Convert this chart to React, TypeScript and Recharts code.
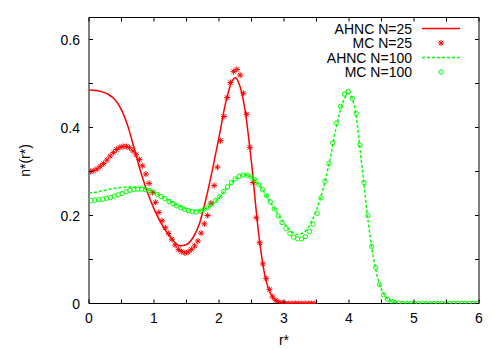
import React from "react";
import { ComposedChart, Line, Scatter, XAxis, YAxis, ReferenceArea, Legend } from "recharts";

// AHNC N=25 (solid red)
const ahnc25R = [0, 0.1, 0.2, 0.3, 0.4, 0.5, 0.6, 0.7, 0.8, 0.9, 1.0, 1.1, 1.2, 1.3, 1.4, 1.5, 1.6, 1.7, 1.8, 1.9, 2.0, 2.1, 2.2, 2.25, 2.3, 2.4, 2.5, 2.6, 2.7, 2.8, 2.9, 3.0, 3.5];
const ahnc25N = [0.485, 0.484, 0.481, 0.475, 0.463, 0.440, 0.402, 0.350, 0.297, 0.252, 0.215, 0.185, 0.161, 0.142, 0.131, 0.134, 0.150, 0.182, 0.238, 0.305, 0.378, 0.455, 0.505, 0.513, 0.503, 0.440, 0.320, 0.172, 0.068, 0.020, 0.005, 0.001, 0];

// MC N=25 (red stars)
const mc25R = [0.025, 0.075, 0.125, 0.175, 0.225, 0.275, 0.325, 0.375, 0.425, 0.475, 0.525, 0.575, 0.625, 0.675, 0.725, 0.775, 0.825, 0.875, 0.925, 0.975, 1.025, 1.075, 1.125, 1.175, 1.225, 1.275, 1.325, 1.375, 1.425, 1.475, 1.525, 1.575, 1.625, 1.675, 1.725, 1.775, 1.825, 1.875, 1.925, 1.975, 2.025, 2.075, 2.125, 2.175, 2.225, 2.275, 2.325, 2.375, 2.425, 2.475, 2.525, 2.575, 2.625, 2.675, 2.725, 2.775, 2.825, 2.875, 2.925, 2.975, 3.025, 3.075, 3.125, 3.175, 3.225, 3.275, 3.325, 3.375, 3.425, 3.475];
const mc25N = [0.300, 0.302, 0.306, 0.312, 0.318, 0.326, 0.335, 0.343, 0.350, 0.355, 0.357, 0.357, 0.354, 0.347, 0.338, 0.327, 0.313, 0.294, 0.273, 0.252, 0.230, 0.207, 0.188, 0.172, 0.159, 0.146, 0.133, 0.123, 0.118, 0.115, 0.117, 0.123, 0.131, 0.142, 0.160, 0.181, 0.200, 0.228, 0.268, 0.310, 0.370, 0.425, 0.468, 0.502, 0.527, 0.532, 0.519, 0.478, 0.430, 0.355, 0.275, 0.195, 0.138, 0.090, 0.057, 0.032, 0.015, 0.007, 0.003, 0.001, 0, 0, 0, 0, 0, 0, 0, 0, 0, 0];

// AHNC N=100 (dashed green)
const ahnc100R = [0, 0.1, 0.2, 0.3, 0.4, 0.5, 0.6, 0.7, 0.8, 0.9, 1.0, 1.1, 1.2, 1.3, 1.4, 1.5, 1.6, 1.7, 1.8, 1.9, 2.0, 2.1, 2.2, 2.3, 2.4, 2.5, 2.6, 2.7, 2.8, 2.9, 3.0, 3.1, 3.2, 3.3, 3.4, 3.5, 3.6, 3.7, 3.8, 3.9, 4.0, 4.1, 4.2, 4.3, 4.4, 4.5, 4.6, 4.7, 4.8, 5.0, 6.0];
const ahnc100N = [0.251, 0.253, 0.256, 0.259, 0.262, 0.264, 0.265, 0.265, 0.263, 0.259, 0.253, 0.245, 0.236, 0.228, 0.221, 0.215, 0.212, 0.211, 0.216, 0.226, 0.240, 0.258, 0.275, 0.288, 0.293, 0.287, 0.272, 0.252, 0.228, 0.205, 0.183, 0.166, 0.157, 0.161, 0.180, 0.213, 0.260, 0.322, 0.398, 0.455, 0.477, 0.435, 0.310, 0.180, 0.085, 0.032, 0.010, 0.003, 0, 0, 0];

// MC N=100 (green circles)
const mc100R = [0.03, 0.09, 0.15, 0.21, 0.27, 0.33, 0.39, 0.45, 0.51, 0.57, 0.63, 0.69, 0.75, 0.81, 0.87, 0.93, 0.99, 1.05, 1.11, 1.17, 1.23, 1.29, 1.35, 1.41, 1.47, 1.53, 1.59, 1.65, 1.71, 1.77, 1.83, 1.89, 1.95, 2.01, 2.07, 2.13, 2.19, 2.25, 2.31, 2.37, 2.43, 2.49, 2.55, 2.61, 2.67, 2.73, 2.79, 2.85, 2.91, 2.97, 3.03, 3.09, 3.15, 3.21, 3.27, 3.33, 3.39, 3.45, 3.51, 3.57, 3.63, 3.69, 3.75, 3.81, 3.87, 3.93, 3.99, 4.05, 4.11, 4.17, 4.23, 4.29, 4.35, 4.41, 4.47, 4.53, 4.59, 4.65, 4.71, 4.77, 4.83, 4.89, 4.95, 5.01, 5.07, 5.13, 5.19, 5.25, 5.31, 5.37, 5.43, 5.49, 5.55, 5.61, 5.67, 5.73, 5.79, 5.85, 5.91, 5.97];
const mc100N = [0.234, 0.235, 0.236, 0.237, 0.239, 0.241, 0.244, 0.247, 0.250, 0.254, 0.257, 0.259, 0.260, 0.260, 0.259, 0.257, 0.253, 0.248, 0.243, 0.238, 0.232, 0.227, 0.222, 0.218, 0.214, 0.211, 0.209, 0.208, 0.210, 0.214, 0.219, 0.226, 0.234, 0.243, 0.254, 0.265, 0.275, 0.283, 0.289, 0.292, 0.292, 0.288, 0.281, 0.271, 0.259, 0.245, 0.231, 0.215, 0.199, 0.184, 0.170, 0.159, 0.151, 0.147, 0.147, 0.152, 0.164, 0.180, 0.205, 0.240, 0.278, 0.318, 0.365, 0.410, 0.448, 0.476, 0.482, 0.466, 0.432, 0.360, 0.275, 0.200, 0.130, 0.082, 0.043, 0.020, 0.010, 0.005, 0.002, 0.001, 0, 0, 0, 0, 0, 0, 0, 0, 0, 0, 0, 0, 0, 0, 0, 0, 0, 0, 0, 0];

const xTicks = [0, 0.5, 1, 1.5, 2, 2.5, 3, 3.5, 4, 4.5, 5, 5.5, 6];
const xTickLabels = ["0", "", "1", "", "2", "", "3", "", "4", "", "5", "", "6"];
const yTicks = [0, 0.1, 0.2, 0.3, 0.4, 0.5, 0.6];
const yTickLabels = ["0", "", "0.2", "", "0.4", "", "0.6"];

const RED = "#ff0000";
const GREEN = "#00ff00";
const FONT = "'Liberation Sans', Arial, sans-serif";

const PLOT_LEFT = 89;
const PLOT_RIGHT = 479;
const PLOT_TOP = 17.5;
const PLOT_BOTTOM = 303.5;
const TICK = 4;

const zip = (rs: number[], ns: number[]) => rs.map((r, i) => ({ r, n: ns[i] }));

const ahnc25 = zip(ahnc25R, ahnc25N);
const mc25 = zip(mc25R, mc25N);
const ahnc100 = zip(ahnc100R, ahnc100N);
const mc100 = zip(mc100R, mc100N);

function Star({ cx, cy }: any) {
  return (
    <g stroke={RED} strokeWidth={1}>
      <line x1={cx - 3} x2={cx + 3} y1={cy} y2={cy} />
      <line x1={cx} x2={cx} y1={cy - 3} y2={cy + 3} />
      <line x1={cx - 2.2} x2={cx + 2.2} y1={cy - 2.2} y2={cy + 2.2} />
      <line x1={cx - 2.2} x2={cx + 2.2} y1={cy + 2.2} y2={cy - 2.2} />
    </g>
  );
}

function Ring({ cx, cy }: any) {
  return <circle cx={cx} cy={cy} r={2.2} fill="none" stroke={GREEN} strokeWidth={1} />;
}

function XTick({ x, payload }: any) {
  const label = xTickLabels[xTicks.indexOf(payload.value)];
  return (
    <g>
      <line x1={x} x2={x} y1={PLOT_BOTTOM} y2={PLOT_BOTTOM - TICK} stroke="#000" />
      <line x1={x} x2={x} y1={PLOT_TOP} y2={PLOT_TOP + TICK} stroke="#000" />
      {label && (
        <text x={x} y={PLOT_BOTTOM + 10} dy="0.71em" textAnchor="middle" fontSize={14} fontFamily={FONT} fill="#000">
          {label}
        </text>
      )}
    </g>
  );
}

function YTick({ y, payload }: any) {
  const label = yTickLabels[yTicks.indexOf(payload.value)];
  return (
    <g>
      <line x1={PLOT_LEFT} x2={PLOT_LEFT + TICK} y1={y} y2={y} stroke="#000" />
      <line x1={PLOT_RIGHT - TICK} x2={PLOT_RIGHT} y1={y} y2={y} stroke="#000" />
      {label && (
        <text x={PLOT_LEFT - 9} y={y} dy="0.36em" textAnchor="end" fontSize={14} fontFamily={FONT} fill="#000">
          {label}
        </text>
      )}
    </g>
  );
}

const legendRows = [
  { name: "AHNC N=25", kind: "solid" },
  { name: "MC N=25", kind: "star" },
  { name: "AHNC N=100", kind: "dashed" },
  { name: "MC N=100", kind: "ring" },
];

function LegendBox() {
  return (
    <svg width={200} height={66}>
      {legendRows.map((row, i) => {
        const y = 10.5 + i * 14.5;
        return (
          <g key={row.name}>
            <text x={132} y={y} dy="0.36em" textAnchor="end" fontSize={14} fontFamily={FONT} fill="#000">
              {row.name}
            </text>
            {row.kind === "solid" && <line x1={142} x2={180} y1={y} y2={y} stroke={RED} strokeWidth={1.5} />}
            {row.kind === "dashed" && (
              <line x1={142} x2={180} y1={y} y2={y} stroke={GREEN} strokeWidth={1.5} strokeDasharray="3 2" />
            )}
            {row.kind === "star" && <Star cx={161} cy={y} />}
            {row.kind === "ring" && <Ring cx={161} cy={y} />}
          </g>
        );
      })}
    </svg>
  );
}

export default function App() {
  return (
    <div style={{ position: "absolute", left: 0, top: 0, background: "#fff" }}>
      <ComposedChart width={500} height={350} margin={{ top: PLOT_TOP, right: 21, bottom: 0, left: 0 }}>
        <XAxis
          dataKey="r"
          type="number"
          domain={[0, 6]}
          ticks={xTicks}
          interval={0}
          height={46.5}
          axisLine={false}
          tickLine={false}
          tick={<XTick />}
          allowDataOverflow
          label={{ value: "r*", position: "insideBottom", offset: 5, fontSize: 14, fontFamily: FONT, fill: "#000" }}
        />
        <YAxis
          type="number"
          domain={[0, 0.65]}
          ticks={yTicks}
          interval={0}
          width={89}
          axisLine={false}
          tickLine={false}
          tick={<YTick />}
          allowDataOverflow
          label={{ value: "n*(r*)", angle: -90, position: "insideLeft", offset: 25, fontSize: 14, fontFamily: FONT, fill: "#000", style: { textAnchor: "middle" } }}
        />
        <ReferenceArea x1={0} x2={6} y1={0} y2={0.65} fill="none" stroke="#000" strokeWidth={1} ifOverflow="visible" />
        <Line data={ahnc25} dataKey="n" type="monotone" stroke={RED} strokeWidth={1.5} dot={false} activeDot={false} isAnimationActive={false} />
        <Scatter data={mc25} dataKey="n" shape={<Star />} isAnimationActive={false} />
        <Line data={ahnc100} dataKey="n" type="monotone" stroke={GREEN} strokeWidth={1.5} strokeDasharray="3 2" dot={false} activeDot={false} isAnimationActive={false} />
        <Scatter data={mc100} dataKey="n" shape={<Ring />} isAnimationActive={false} />
        <Legend
          layout="vertical"
          align="center"
          verticalAlign="middle"
          wrapperStyle={{ left: 280, top: 18, width: 200, height: 66 }}
          content={() => <LegendBox />}
        />
      </ComposedChart>
    </div>
  );
}
